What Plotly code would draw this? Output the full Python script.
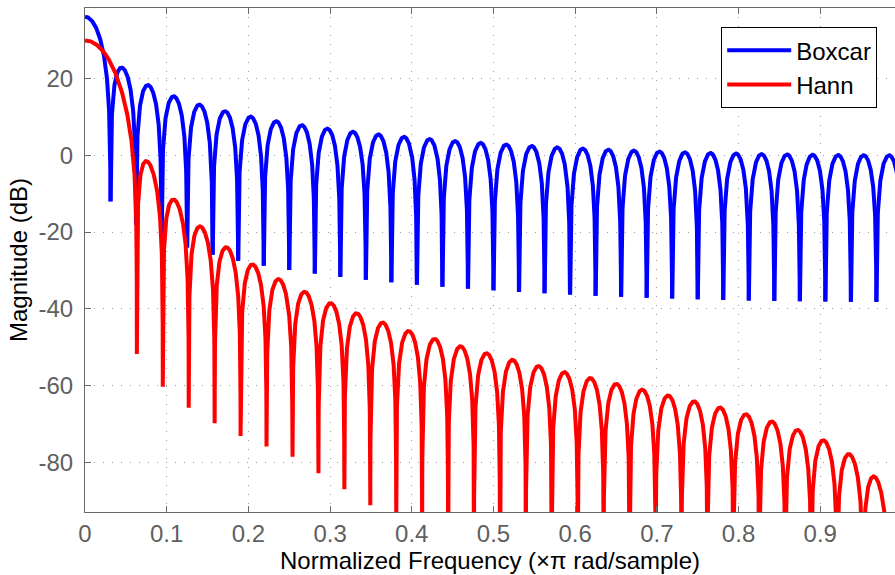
import numpy as np
import plotly.graph_objects as go

# ---- data description (window spectra, as drawn by the original) ----
window_length = 64                 # samples in each window
n_freq_points = 8192               # frequency samples k/8192 on [0, 1) x pi rad/sample
series_names = ["Boxcar", "Hann"]
series_colors = ["#0000ff", "#ff0000"]
x_tick_vals = [0, 0.1, 0.2, 0.3, 0.4, 0.5, 0.6, 0.7, 0.8, 0.9]
x_tick_text = ["0", "0.1", "0.2", "0.3", "0.4", "0.5", "0.6", "0.7", "0.8", "0.9"]
y_tick_vals = [-80, -60, -40, -20, 0, 20]
y_tick_text = ["-80", "-60", "-40", "-20", "0", "20"]
x_range = [0, 0.9915]
y_range = [-93.0, 38.4]

# ---- windows and their magnitude responses ----
n = np.arange(window_length)
boxcar = np.ones(window_length)
hann = 0.5 * (1 - np.cos(2 * np.pi * n / (window_length - 1)))
freq = np.arange(n_freq_points) / n_freq_points
kernel = np.exp(-1j * np.pi * np.outer(freq, n))


def to_db(w):
    mag = np.abs(kernel @ w)
    db = np.full(mag.shape, np.nan)          # exact zeros -> -Inf (not drawn)
    ok = mag > mag.max() * 1e-10
    db[ok] = 20 * np.log10(mag[ok])
    return db


mag_db = [to_db(w) for w in (boxcar, hann)]

FONT = "Liberation Sans, Arial, Helvetica, sans-serif"
AXIS_COLOR = "#6a6a6a"
TICK_FONT_COLOR = "#5f5f5f"
GRID_COLOR = "#9a9a9a"
FS = 24

fig = go.Figure()
for name, color, y in zip(series_names, series_colors, mag_db):
    fig.add_trace(go.Scatter(x=freq, y=y, mode="lines", name=name,
                             connectgaps=False,
                             line=dict(color=color, width=4)))

fig.update_layout(
    width=895, height=575,
    margin=dict(l=85, r=0, t=8, b=63, pad=0),
    paper_bgcolor="white", plot_bgcolor="white",
    font=dict(family=FONT, size=FS, color="black"),
    showlegend=True,
    legend=dict(x=0.978, y=0.962, xanchor="right", yanchor="top",
                bgcolor="white", bordercolor="black", borderwidth=1,
                font=dict(family=FONT, size=FS, color="black"),
                itemwidth=64, tracegroupgap=0),
)
fig.update_xaxes(
    range=x_range, tickvals=x_tick_vals, ticktext=x_tick_text,
    ticks="inside", ticklen=6, tickcolor=AXIS_COLOR, tickwidth=1,
    showline=True, linecolor=AXIS_COLOR, linewidth=1, mirror="ticks",
    showgrid=True, gridcolor=GRID_COLOR, gridwidth=1, griddash="1px,8px",
    zeroline=False,
    tickfont=dict(family=FONT, size=FS, color=TICK_FONT_COLOR),
    title=dict(text="Normalized Frequency (\u00d7\u03c0 rad/sample)",
               font=dict(family=FONT, size=FS, color="black"), standoff=4),
)
fig.update_yaxes(
    range=y_range, tickvals=y_tick_vals, ticktext=y_tick_text,
    ticks="inside", ticklen=6, tickcolor=AXIS_COLOR, tickwidth=1,
    showline=True, linecolor=AXIS_COLOR, linewidth=1, mirror=False,
    showgrid=True, gridcolor=GRID_COLOR, gridwidth=1, griddash="1px,8px",
    zeroline=False, ticklabelstandoff=6,
    tickfont=dict(family=FONT, size=FS, color=TICK_FONT_COLOR),
    title=dict(text="Magnitude (dB)",
               font=dict(family=FONT, size=FS, color="black"), standoff=4),
)

fig.write_html("out.html")
